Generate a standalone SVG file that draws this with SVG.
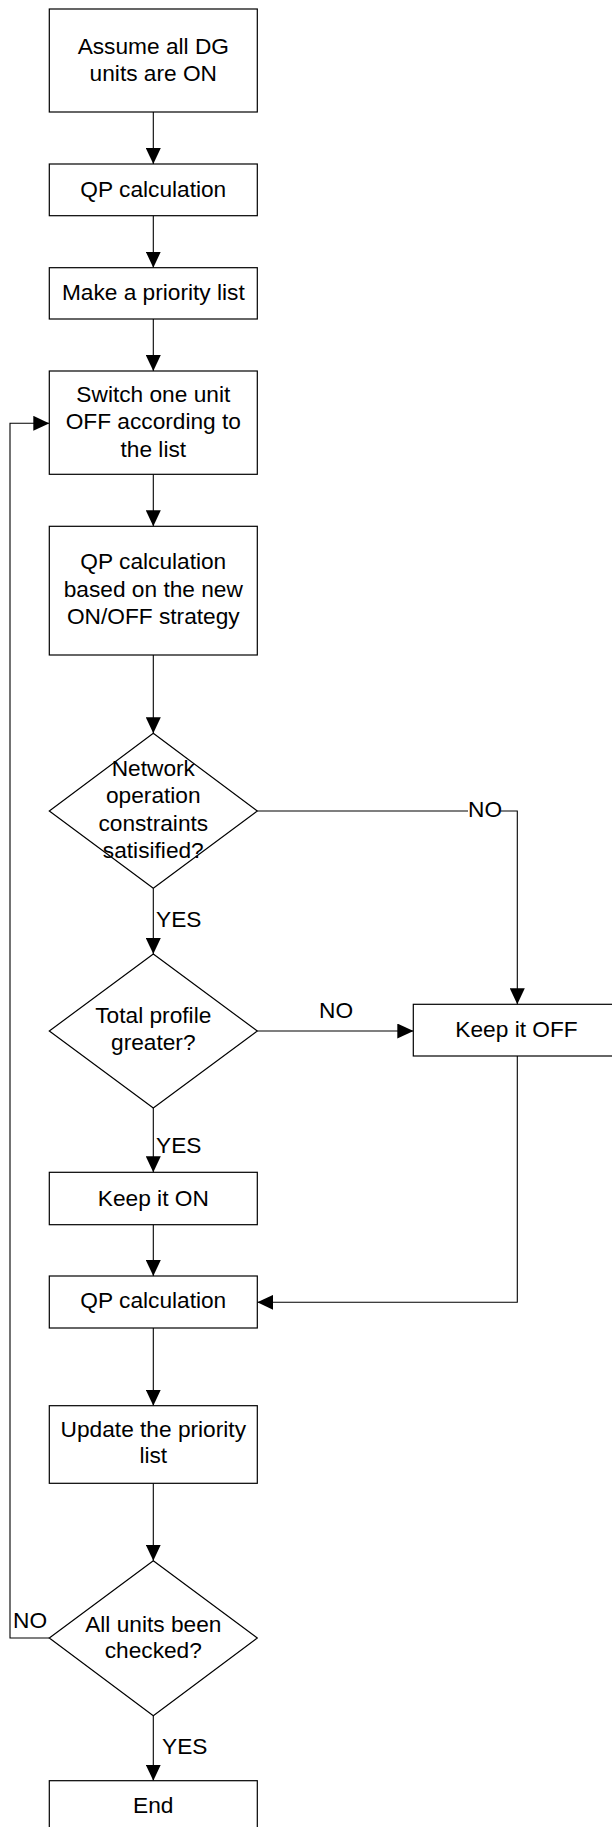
<svg xmlns="http://www.w3.org/2000/svg" width="612" height="1827" viewBox="0 0 612 1827">
  <style>
    .shape { fill: #ffffff; stroke: #000000; stroke-width: 1.2; }
    .wire { fill: none; stroke: #000000; stroke-width: 1.1; }
    .arrow { marker-end: url(#head); }
    text { font-family: "Liberation Sans", Arial, sans-serif; font-size: 22.7px; fill: #000000; }
    .c { text-anchor: middle; }
  </style>
  <defs>
    <marker id="head" markerUnits="userSpaceOnUse" markerWidth="16" markerHeight="15" refX="16" refY="7.5" orient="auto">
      <path d="M0,0 L16,7.5 L0,15 Z" fill="#000000"/>
    </marker>
  </defs>
  <rect width="612" height="1827" fill="#ffffff"/>

  <!-- connectors -->
  <g id="connectors">
    <path class="wire arrow" d="M153.3,112 V164"/>
    <path class="wire arrow" d="M153.3,215.7 V267.7"/>
    <path class="wire arrow" d="M153.3,319 V371"/>
    <path class="wire arrow" d="M153.3,474.3 V526.3"/>
    <path class="wire arrow" d="M153.3,655 V733.3"/>
    <path class="wire arrow" d="M153.3,888.3 V954"/>
    <path class="wire arrow" d="M153.3,1108 V1172.3"/>
    <path class="wire arrow" d="M153.3,1224.7 V1276"/>
    <path class="wire arrow" d="M153.3,1328 V1405.7"/>
    <path class="wire arrow" d="M153.3,1483.3 V1560.7"/>
    <path class="wire arrow" d="M153.3,1715.7 V1780.7"/>
    <!-- constraints not satisfied -->
    <path class="wire" d="M257.3,811 H468"/>
    <path class="wire arrow" d="M501,811 H517.3 V1004.3"/>
    <!-- profile not greater -->
    <path class="wire arrow" d="M257.3,1031 H413.3"/>
    <!-- keep OFF back to QP calculation -->
    <path class="wire arrow" d="M517.3,1056 V1302.3 H257.3"/>
    <!-- loop back to switching -->
    <path class="wire arrow" d="M49.3,1638 H10 V423.3 H49.3"/>
    <text x="468" y="817">NO</text>
    <text x="156" y="927">YES</text>
    <text x="319" y="1017.7">NO</text>
    <text x="156" y="1152.7">YES</text>
    <text x="13" y="1628.3">NO</text>
    <text x="162" y="1754.3">YES</text>
  </g>

  <g id="assume">
    <rect class="shape" x="49.3" y="9" width="208" height="103"/>
    <text class="c" x="153.3" y="54">Assume all DG</text>
    <text class="c" x="153.3" y="81">units are ON</text>
  </g>
  <g id="qp1">
    <rect class="shape" x="49.3" y="164" width="208" height="51.7"/>
    <text class="c" x="153.3" y="197">QP calculation</text>
  </g>
  <g id="priority">
    <rect class="shape" x="49.3" y="267.7" width="208" height="51.3"/>
    <text class="c" x="153.3" y="300">Make a priority list</text>
  </g>
  <g id="switch">
    <rect class="shape" x="49.3" y="371" width="208" height="103.3"/>
    <text class="c" x="153.3" y="401.7">Switch one unit</text>
    <text class="c" x="153.3" y="429">OFF according to</text>
    <text class="c" x="153.3" y="456.5">the list</text>
  </g>
  <g id="qp2">
    <rect class="shape" x="49.3" y="526.3" width="208" height="128.7"/>
    <text class="c" x="153.3" y="569.3">QP calculation</text>
    <text class="c" x="153.3" y="596.7">based on the new</text>
    <text class="c" x="153.3" y="624">ON/OFF strategy</text>
  </g>
  <g id="constraints">
    <path class="shape" d="M153.3,733.3 L257.3,811 L153.3,888.3 L49.3,811 Z"/>
    <text class="c" x="153.3" y="776">Network</text>
    <text class="c" x="153.3" y="803.3">operation</text>
    <text class="c" x="153.3" y="830.7">constraints</text>
    <text class="c" x="153.3" y="858">satisified?</text>
  </g>
  <g id="profile">
    <path class="shape" d="M153.3,954 L257.3,1031 L153.3,1108 L49.3,1031 Z"/>
    <text class="c" x="153.3" y="1023.3">Total profile</text>
    <text class="c" x="153.3" y="1050">greater?</text>
  </g>
  <g id="keep-off">
    <rect class="shape" x="413.3" y="1004.3" width="207" height="51.7"/>
    <text class="c" x="516.5" y="1037">Keep it OFF</text>
  </g>
  <g id="keep-on">
    <rect class="shape" x="49.3" y="1172.3" width="208" height="52.4"/>
    <text class="c" x="153.3" y="1206">Keep it ON</text>
  </g>
  <g id="qp3">
    <rect class="shape" x="49.3" y="1276" width="208" height="52"/>
    <text class="c" x="153.3" y="1308.3">QP calculation</text>
  </g>
  <g id="update">
    <rect class="shape" x="49.3" y="1405.7" width="208" height="77.6"/>
    <text class="c" x="153.3" y="1436.7">Update the priority</text>
    <text class="c" x="153.3" y="1463.3">list</text>
  </g>
  <g id="all-checked">
    <path class="shape" d="M153.3,1560.7 L257.3,1638 L153.3,1715.7 L49.3,1638 Z"/>
    <text class="c" x="153.3" y="1631.7">All units been</text>
    <text class="c" x="153.3" y="1658.3">checked?</text>
  </g>
  <g id="end">
    <rect class="shape" x="49.3" y="1780.7" width="208" height="52"/>
    <text class="c" x="153.3" y="1813.3">End</text>
  </g>
</svg>
